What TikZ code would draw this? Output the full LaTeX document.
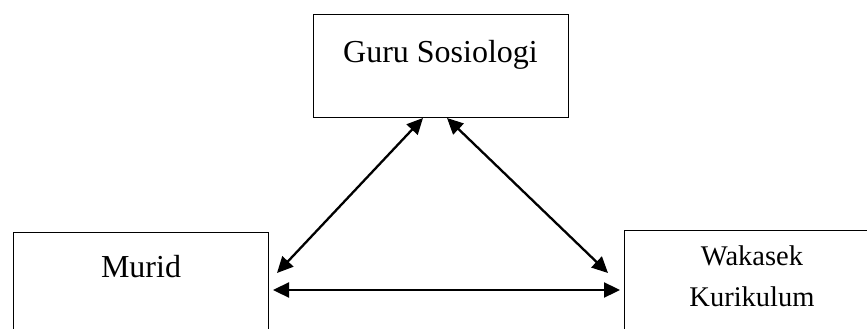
\documentclass[tikz,border=0pt]{standalone}
\usepackage{fontspec}
\setmainfont{Liberation Serif}
\usetikzlibrary{arrows.meta}
\begin{document}
\begin{tikzpicture}[x=1pt,y=-1pt,
  box/.style={draw, line width=1.3pt, inner sep=0pt, anchor=north west},
  lbl/.style={anchor=base, inner sep=0pt},
  link/.style={line width=2.3pt, {Triangle[length=16pt,width=15pt]}-{Triangle[length=16pt,width=15pt]}}]
\useasboundingbox (0,0) rectangle (867,329);
\clip (0,0) rectangle (867,329);
% boxes
\node[box, minimum width=255pt, minimum height=103pt] (guru) at (313,14) {};
\node[box, minimum width=255pt, minimum height=130pt] (murid) at (13,232) {};
\node[box, minimum width=256pt, minimum height=130pt] (waka) at (624,230) {};
% labels
\node[lbl, font=\fontsize{32}{38}\selectfont] (gurut) at (440.5,63) {Guru Sosiologi};
\node[lbl, font=\fontsize{32}{38}\selectfont] (muridt) at (141,277) {Murid};
\node[lbl, font=\fontsize{28.5}{41}\selectfont] (wakat1) at (752,265) {Wakasek};
\node[lbl, font=\fontsize{28.5}{41}\selectfont] (wakat2) at (752,306) {Kurikulum};
% connector ends
\coordinate (g1) at (423,118);
\coordinate (g2) at (447,118);
\coordinate (m1) at (277,273);
\coordinate (m2) at (273,290);
\coordinate (w1) at (608,273);
\coordinate (w2) at (620,290);
\draw[link] (g1) -- (m1);
\draw[link] (g2) -- (w1);
\draw[link] (m2) -- (w2);
\end{tikzpicture}
\end{document}
